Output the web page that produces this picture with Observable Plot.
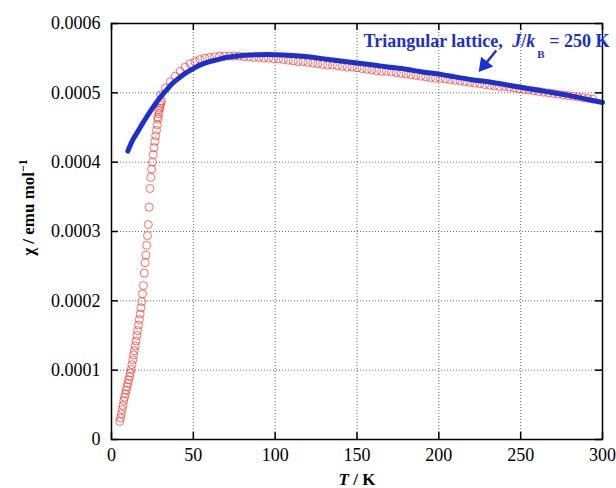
<!DOCTYPE html>
<html><head><meta charset="utf-8">
<script src="https://cdn.jsdelivr.net/npm/d3@7"></script>
<script src="https://cdn.jsdelivr.net/npm/@observablehq/plot@0.6"></script>
<style>body{margin:0;background:#fff} #chart svg{display:block}</style>
</head><body><div id="chart"></div>
<script>
// measured chi(T), low-temperature branch
const lowT = [5.0,5.5,6.0,6.5,7.0,7.5,8.0,8.5,9.0,9.5,10.0,10.5,11.0,11.5,12.0,12.5,13.0,13.5,14.0,14.5,15.0,15.5,16.0,16.5,17.0,17.5,18.0,18.5,19.0,19.5,20.0,20.5,21.0,21.5,22.0,22.5,23.0,23.5,24.0,24.5,25.0,25.5,26.0,26.5,27.0,27.5,28.0,28.2,28.5,28.8,29.0,29.5,29.8,30.0,30.5];
const lowChi = [0.000026,0.000031,0.000037,0.000043,0.000049,0.000056,0.000061,0.000066,0.000071,0.000076,0.000081,0.000086,0.000091,0.000096,0.000101,0.000108,0.000115,0.000122,0.000128,0.000135,0.000142,0.000150,0.000157,0.000165,0.000173,0.000181,0.000190,0.000199,0.000210,0.000222,0.000240,0.000255,0.000266,0.000280,0.000294,0.000310,0.000335,0.000362,0.000378,0.000390,0.000400,0.000411,0.000421,0.000430,0.000438,0.000446,0.000454,0.000465,0.000462,0.000475,0.000470,0.000478,0.000482,0.000485,0.000488];
// measured chi(T), high-temperature branch
const highT = [30,33,36,39,42,45,48,51,54,57,60,63,66,69,72,75,78,81,84,87,90,93,96,99,102,105,108,111,114,117,120,123,126,129,132,135,138,141,144,147,150,153,156,159,162,165,168,171,174,177,180,183,186,189,192,195,198,201,204,207,210,213,216,219,222,225,228,231,234,237,240,243,246,249,252,255,258,261,264,267,270,273,276,279,282,285,288,291,294];
const highChi = [0.000497,0.000507,0.000516,0.000524,0.000531,0.000537,0.000542,0.000545,0.000548,0.000550,0.000551,0.000552,0.000553,0.000553,0.000553,0.000553,0.000553,0.000552,0.000552,0.000551,0.000551,0.000550,0.000550,0.000549,0.000549,0.000548,0.000547,0.000546,0.000545,0.000545,0.000544,0.000543,0.000542,0.000541,0.000540,0.000540,0.000539,0.000538,0.000537,0.000537,0.000536,0.000535,0.000534,0.000533,0.000532,0.000531,0.000531,0.000530,0.000529,0.000528,0.000527,0.000526,0.000525,0.000524,0.000523,0.000522,0.000521,0.000521,0.000520,0.000519,0.000518,0.000517,0.000516,0.000515,0.000514,0.000513,0.000512,0.000511,0.000510,0.000509,0.000509,0.000508,0.000507,0.000506,0.000505,0.000504,0.000503,0.000502,0.000501,0.000500,0.000499,0.000498,0.000497,0.000496,0.000495,0.000494,0.000493,0.000492,0.000491];
// triangular lattice model, J/kB = 250 K
const fitT = [10,13,16,19,22,25,28,31,34,37,40,45,50,55,60,65,70,80,90,100,110,120,130,140,150,160,170,180,190,200,210,220,230,240,250,260,270,280,290,300];
const fitChi = [0.000416,0.000432,0.000444,0.000456,0.000467,0.000478,0.000488,0.000497,0.000505,0.000513,0.000519,0.000528,0.000535,0.000541,0.000545,0.000548,0.000551,0.000554,0.000555,0.000555,0.000554,0.000552,0.000549,0.000546,0.000543,0.000540,0.000537,0.000534,0.000530,0.000527,0.000523,0.000519,0.000516,0.000512,0.000508,0.000504,0.000500,0.000496,0.000491,0.000486];

const xTicks = [0,50,100,150,200,250,300];
const yTicks = [0,0.0001,0.0002,0.0003,0.0004,0.0005,0.0006];
const xGrid = [50,100,150,200,250];
const yGrid = [0.0001,0.0002,0.0003,0.0004,0.0005];
const xLabel = "T / K";
const yLabel = "χ / emu mol−1";
const annotation = "Triangular lattice, J/kB = 250 K";
// annotation arrow (data coordinates: T, chi)
const arrowTail = [235.1, 0.000561];
const arrowBase = [229.3, 0.000544];
const arrowHead = [227.8, 0.000540];

const measured = lowT.map((T,i)=>({T, chi: lowChi[i]}))
  .concat(highT.map((T,i)=>({T, chi: highChi[i]})));
const fit = fitT.map((T,i)=>({T, chi: fitChi[i]}));

const W = 616, H = 488, mL = 111, mR = 14, mT = 23, mB = 49;
const fw = W - mL - mR, fh = H - mT - mB, tl = 7;
const blue = "#1b30cf";
const red = "#ff2a1a";

const plot = Plot.plot({
  width: W, height: H,
  marginLeft: mL, marginRight: mR, marginTop: mT, marginBottom: mB,
  style: {fontFamily: "'Liberation Serif', 'Times New Roman', serif", fontSize: "18px", background: "white", color: "black", overflow: "visible"},
  x: {domain: [0, 300], label: null},
  y: {domain: [0, 0.0006], label: null},
  marks: [
    Plot.gridX(xGrid, {stroke: "#666", strokeOpacity: 1, strokeDasharray: "1,2"}),
    Plot.gridY(yGrid, {stroke: "#666", strokeOpacity: 1, strokeDasharray: "1,2"}),
    Plot.dot(measured, {x: "T", y: "chi", r: 4, stroke: red, strokeWidth: 0.8, strokeOpacity: 0.85, fill: "none"}),
    Plot.line(fit, {x: "T", y: "chi", stroke: blue, strokeWidth: 5, curve: "catmull-rom"}),
    Plot.link([0], {x1: () => arrowTail[0], y1: () => arrowTail[1], x2: () => arrowBase[0], y2: () => arrowBase[1], stroke: blue, strokeWidth: 2.5}),
    Plot.dot([0], {x: () => arrowHead[0], y: () => arrowHead[1], symbol: "triangle", r: 5.8, fill: blue, stroke: "none", rotate: 219}),
    Plot.frame({stroke: "black", strokeWidth: 1.5}),
    Plot.tickX(xTicks, {x: d => d, insetTop: fh - tl, stroke: "black", strokeWidth: 1.5}),
    Plot.tickX(xTicks, {x: d => d, insetBottom: fh - tl, stroke: "black", strokeWidth: 1.5}),
    Plot.tickY(yTicks, {y: d => d, insetRight: fw - tl, stroke: "black", strokeWidth: 1.5}),
    Plot.tickY(yTicks, {y: d => d, insetLeft: fw - tl, stroke: "black", strokeWidth: 1.5}),
    Plot.axisX(xTicks, {tickSize: 0, tickPadding: 9, label: null, fontSize: 18}),
    Plot.axisY(yTicks, {tickSize: 0, tickPadding: 11, label: null, fontSize: 18, tickFormat: d => d === 0 ? "0" : d.toFixed(4)}),
    Plot.text([xLabel], {frameAnchor: "bottom", dy: 45, lineAnchor: "bottom", textAnchor: "middle", fontWeight: "bold", fontSize: 17}),
    Plot.text([yLabel], {frameAnchor: "left", dx: -78, dy: -24, rotate: -90, lineAnchor: "bottom", textAnchor: "middle", fontWeight: "bold", fontSize: 17}),
    Plot.text([annotation], {frameAnchor: "top-left", dx: 252, dy: 23, lineAnchor: "bottom", textAnchor: "start", fontWeight: "bold", fontSize: 18, fill: blue})
  ]
});

function rich(content, parts) {
  const sel = d3.select(plot).selectAll("text").filter(function () { return this.textContent === content; });
  sel.text(null);
  for (const p of parts) {
    const t = sel.append("tspan").text(p.t);
    if (p.i) t.attr("font-style", "italic");
    if (p.dy) t.attr("dy", p.dy);
    if (p.dx) t.attr("dx", p.dx);
    if (p.fs) t.attr("font-size", p.fs);
  }
}
rich(xLabel, [{t: "T", i: true}, {t: " / K"}]);
rich(yLabel, [{t: "χ / emu mol"}, {t: "−1", fs: 12, dy: -7}]);
rich(annotation, [
  {t: "Triangular lattice, "}, {t: "J", i: true, dx: 5}, {t: "/"}, {t: "k", i: true},
  {t: "B", fs: 11, dy: 11, dx: 2}, {t: " = 250 K", dy: -11}
]);
document.getElementById("chart").appendChild(plot);
</script>
</body></html>
